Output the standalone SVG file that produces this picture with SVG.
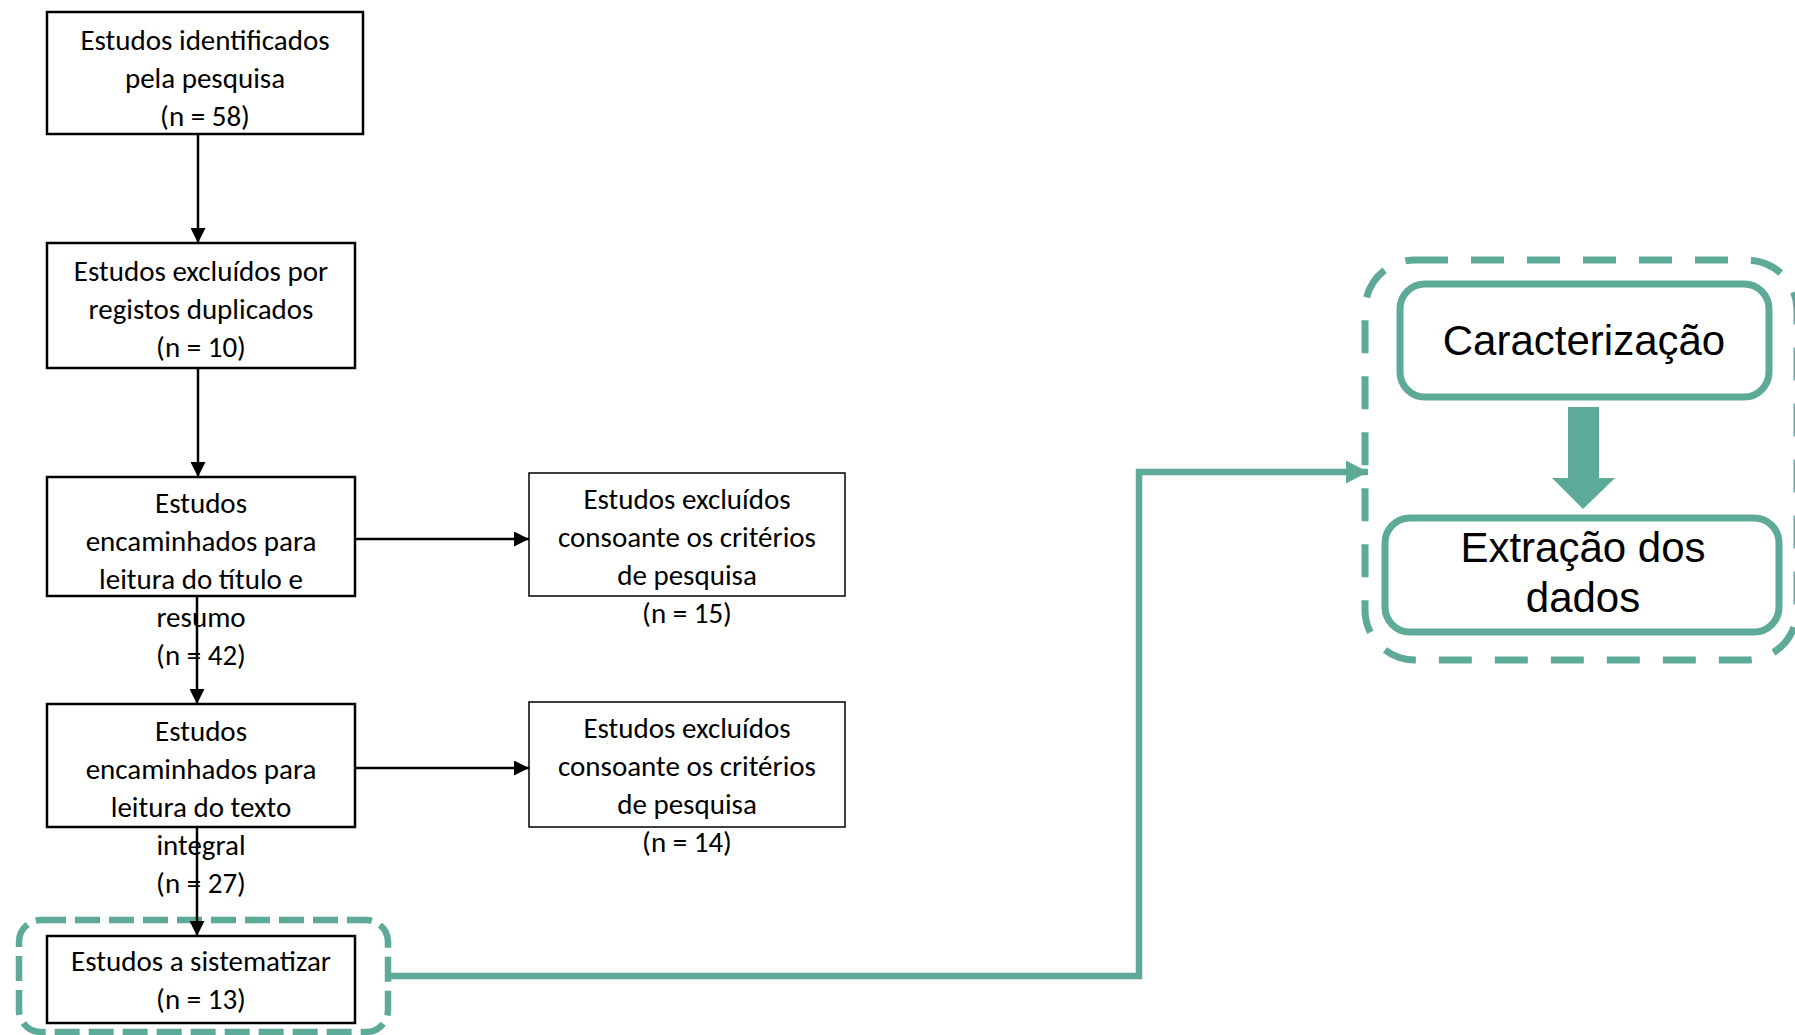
<svg xmlns="http://www.w3.org/2000/svg" width="1795" height="1035" viewBox="0 0 1795 1035">
<defs>
<style>
.box{fill:#ffffff;stroke:#000000;stroke-width:2.5}
.box-thin{fill:#ffffff;stroke:#000000;stroke-width:1.5}
.t{font-family:Carlito,Lato,"Open Sans",sans-serif;font-size:29px;fill:#000000;text-anchor:middle}
.tg{font-family:"Liberation Sans",Arial,sans-serif;font-size:42px;fill:#000000;text-anchor:middle}
.conn{fill:none;stroke:#000000;stroke-width:2.5}
.gconn{fill:none;stroke:#5EAA98;stroke-width:6.5}
.gbox{fill:#ffffff;stroke:#5EAA98;stroke-width:7}
.gdash{fill:none;stroke:#5EAA98;stroke-width:6.5;stroke-dasharray:25 9}
.gdash-big{fill:none;stroke:#5EAA98;stroke-width:7;stroke-dasharray:33 23}
</style>
<marker id="ah" markerUnits="userSpaceOnUse" markerWidth="15" markerHeight="15" refX="15" refY="7.5" orient="auto">
<path d="M0,0 L15,7.5 L0,15 z" fill="#000000"/>
</marker>
<marker id="gah" markerUnits="userSpaceOnUse" markerWidth="23" markerHeight="23" refX="22" refY="11.5" orient="auto">
<path d="M0,0 L22,11.5 L0,23 z" fill="#5EAA98"/>
</marker>
</defs>

<g id="group-small">
<rect class="gdash" x="19" y="920" width="369" height="112" rx="22"/>
</g>
<g id="group-big">
<rect class="gdash-big" x="1365" y="260" width="432" height="400" rx="50"/>
</g>

<g id="n1">
<rect class="box" x="47" y="12" width="316" height="122"/>
<text class="t" x="205" y="50">Estudos identificados</text>
<text class="t" x="205" y="88">pela pesquisa</text>
<text class="t" x="205" y="126">(n = 58)</text>
</g>
<g id="n2">
<rect class="box" x="47" y="243" width="308" height="125"/>
<text class="t" x="201" y="281">Estudos excluídos por</text>
<text class="t" x="201" y="319">registos duplicados</text>
<text class="t" x="201" y="357">(n = 10)</text>
</g>
<g id="n3">
<rect class="box" x="47" y="477" width="308" height="119"/>
<text class="t" x="201" y="513">Estudos</text>
<text class="t" x="201" y="551">encaminhados para</text>
<text class="t" x="201" y="589">leitura do título e</text>
<text class="t" x="201" y="627">resumo</text>
<text class="t" x="201" y="665">(n = 42)</text>
</g>
<g id="n4">
<rect class="box-thin" x="529" y="473" width="316" height="123"/>
<text class="t" x="687" y="509">Estudos excluídos</text>
<text class="t" x="687" y="547">consoante os critérios</text>
<text class="t" x="687" y="585">de pesquisa</text>
<text class="t" x="687" y="623">(n = 15)</text>
</g>
<g id="n5">
<rect class="box" x="47" y="704" width="308" height="123"/>
<text class="t" x="201" y="741">Estudos</text>
<text class="t" x="201" y="779">encaminhados para</text>
<text class="t" x="201" y="817">leitura do texto</text>
<text class="t" x="201" y="855">integral</text>
<text class="t" x="201" y="893">(n = 27)</text>
</g>
<g id="n6">
<rect class="box-thin" x="529" y="702" width="316" height="125"/>
<text class="t" x="687" y="738">Estudos excluídos</text>
<text class="t" x="687" y="776">consoante os critérios</text>
<text class="t" x="687" y="814">de pesquisa</text>
<text class="t" x="687" y="852">(n = 14)</text>
</g>
<g id="n7">
<rect class="box" x="47" y="936" width="308" height="87"/>
<text class="t" x="201" y="971">Estudos a sistematizar</text>
<text class="t" x="201" y="1009">(n = 13)</text>
</g>
<g id="n8">
<rect class="gbox" x="1400" y="284" width="369" height="113" rx="25"/>
<text class="tg" x="1584" y="355">Caracterização</text>
</g>
<g id="n9">
<rect class="gbox" x="1385" y="518" width="394" height="114" rx="25"/>
<text class="tg" x="1583" y="562">Extração dos</text>
<text class="tg" x="1583" y="612">dados</text>
</g>

<g id="connectors">
<path class="conn" d="M198,134 V243" marker-end="url(#ah)"/>
<path class="conn" d="M198,369 V477" marker-end="url(#ah)"/>
<path class="conn" d="M355,539 H529" marker-end="url(#ah)"/>
<path class="conn" d="M197,596 V704" marker-end="url(#ah)"/>
<path class="conn" d="M355,768 H529" marker-end="url(#ah)"/>
<path class="conn" d="M197,827 V936" marker-end="url(#ah)"/>
<path class="gconn" d="M388,976 H1139 V472 H1368" marker-end="url(#gah)"/>
<polygon points="1568,407 1599,407 1599,478 1615,478 1583,509 1552,478 1568,478" fill="#5EAA98"/>
</g>
</svg>
